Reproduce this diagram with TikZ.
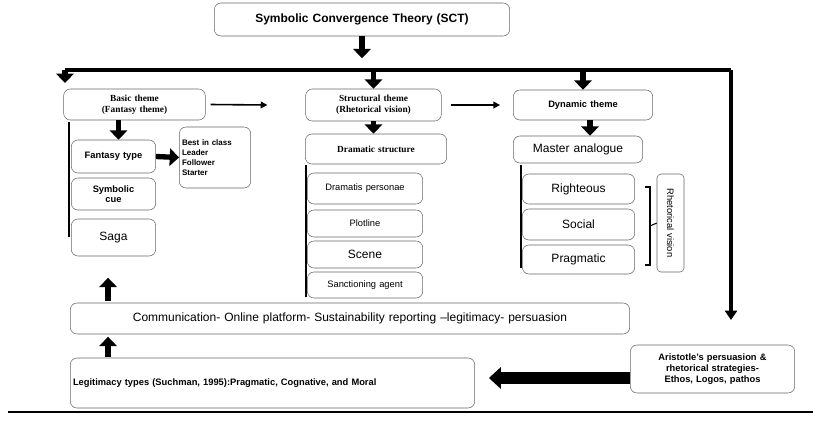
\documentclass[tikz,border=0pt]{standalone}
\usepackage{fontspec}
\setmainfont{Liberation Sans}
\newfontfamily\serifb{Liberation Serif}
\usetikzlibrary{arrows.meta,positioning,calc,decorations.pathreplacing}

\begin{document}
\begin{tikzpicture}[x=0.75pt, y=-0.75pt,
  box/.style={draw=black!60, rounded corners=5pt, inner sep=2pt, align=center},
  fat/.style={line width=4pt, -{Triangle[length=7pt, width=13pt]}},
  thin/.style={line width=1.2pt, -{Triangle[length=5pt, width=5pt]}},
  stem/.style={line width=2.2pt}]
  \useasboundingbox (0,0) rectangle (813,426);

  % Top
  \node[box, text width=290*0.75pt, minimum height=33*0.75pt,
    font=\bfseries\small] (sct) at (362,19.5) {Symbolic Convergence Theory (SCT)};

  % Themes
  \node[box, text width=139*0.75pt, minimum height=31*0.75pt, font=\serifb\bfseries\scriptsize,
    inner sep=1pt] (basic) at (134.5,104.5) {Basic theme\\(Fantasy theme)};
  \node[box, text width=133*0.75pt, minimum height=32*0.75pt, font=\serifb\bfseries\scriptsize,
    inner sep=1pt] (struct) at (373.5,105) {Structural theme\\(Rhetorical vision)};
  \node[box, text width=134*0.75pt, minimum height=30*0.75pt, font=\bfseries\scriptsize]
    (dyn) at (583,105) {Dynamic theme};

  % Basic theme column
  \node[box, text width=79*0.75pt, minimum height=33*0.75pt, font=\bfseries\scriptsize]
    (ftype) at (113.5,156.5) {Fantasy type};
  \node[box, text width=79*0.75pt, minimum height=32*0.75pt, font=\bfseries\scriptsize]
    (scue) at (113.5,194) {Symbolic\\cue};
  \node[box, text width=79*0.75pt, minimum height=37*0.75pt, font=\small]
    (saga) at (113.5,237.5) {Saga};
  \node[box, text width=66*0.75pt, minimum height=61*0.75pt, align=left,
    font=\bfseries\fontsize{6}{7.5}\selectfont] (list) at (215,157.5)
    {Best in class\\Leader\\Follower\\Starter};

  % Structural theme column
  \node[box, text width=136*0.75pt, minimum height=30*0.75pt, font=\serifb\bfseries\scriptsize]
    (dram) at (376,149) {Dramatic structure};
  \node[box, text width=110*0.75pt, minimum height=31*0.75pt, font=\scriptsize]
    (pers) at (365,188.5) {Dramatis personae};
  \node[box, text width=110*0.75pt, minimum height=27*0.75pt, font=\scriptsize]
    (plot) at (365,223.5) {Plotline};
  \node[box, text width=110*0.75pt, minimum height=27*0.75pt, font=\small]
    (scene) at (365,254.5) {Scene};
  \node[box, text width=110*0.75pt, minimum height=26*0.75pt, font=\scriptsize]
    (sanc) at (365,285) {Sanctioning agent};

  % Dynamic theme column
  \node[box, text width=124*0.75pt, minimum height=27*0.75pt, font=\small]
    (master) at (578,149.5) {Master analogue};
  \node[box, text width=107*0.75pt, minimum height=30*0.75pt, font=\small]
    (right) at (578.5,189) {Righteous};
  \node[box, text width=107*0.75pt, minimum height=31*0.75pt, font=\small]
    (social) at (578.5,224.5) {Social};
  \node[box, text width=107*0.75pt, minimum height=29*0.75pt, font=\small]
    (prag) at (578.5,259.5) {Pragmatic};
  \node[box, rounded corners=3pt, minimum width=27*0.75pt, minimum height=98*0.75pt,
    inner sep=0pt] (rvbox) at (670.5,223) {};
  \node[rotate=-90, font=\scriptsize] (rv) at (rvbox.center) {Rhetorical vision};

  % Bottom
  \node[box, text width=554*0.75pt, minimum height=31*0.75pt, font=\small]
    (comm) at (350,318.5) {Communication- Online platform- Sustainability reporting --legitimacy- persuasion};
  \node[box, text width=399*0.75pt, minimum height=50*0.75pt, align=left,
    font=\bfseries\scriptsize] (legit) at (272.5,383)
    {Legitimacy types (Suchman, 1995):Pragmatic, Cognative, and Moral};
  \node[box, text width=159*0.75pt, minimum height=48*0.75pt,
    font=\bfseries\fontsize{7}{8.5}\selectfont] (arist) at (712.5,369)
    {Aristotle's persuasion \&\\rhetorical strategies-\\Ethos, Logos, pathos};

  % Arrows
  \coordinate (tl) at (65,70);
  \coordinate (tr) at (731,70);
  \draw[line width=2.5pt] (tl) -- (tr);
  \draw[fat] (sct.south) -- ($(sct.south)+(0,22)$);
  \draw[fat] (tl) -- ($(tl)+(0,13)$);
  \draw[fat] (struct.north |- tl) -- (struct.north);
  \draw[fat] (dyn.north |- tl) -- (dyn.north);
  \draw[line width=2.5pt, -{Triangle[length=7pt, width=9pt]}] (tr) -- ($(tr)+(0,250)$);
  \draw[thin] ($(basic.east)+(5,0)$) -- ($(struct.west)+(-38,0)$);
  \draw[thin] ($(struct.east)+(9,0)$) -- ($(dyn.west)+(-13,0)$);
  \draw[fat] ($(basic.south)+(-16,0)$) -- ($(ftype.north)+(5,0)$);
  \draw[fat] (ftype.east) -- (list.west);
  \draw[fat] (struct.south) -- (dram.north -| struct.south);
  \draw[fat] ($(dyn.south)+(7,0)$) -- ($(master.north)+(12,0)$);
  \draw[fat] ($(comm.north west)+(38,-2)$) -- ($(comm.north west)+(38,-25)$);
  \draw[fat] ($(legit.north west)+(38,-1)$) -- ($(legit.north west)+(38,-21)$);
  \draw[line width=9pt, -{Triangle[length=9pt, width=16pt]}] (arist.west |- legit.east) ++(0,-5)
    -- ($(legit.east)+(14,-5)$);

  % Stems
  \draw[stem] (69,122) -- (69,237);
  \draw[stem] (306,165) -- (306,297);
  \draw[stem] (521,165) -- (521,268);
  \draw[line width=0.8pt] (645,187) -- (650,187) -- (650,265) -- (645,265);
  \draw[line width=0.8pt] (650,226) -- (rvbox.west);

  % Bottom rule
  \draw[line width=1.5pt] (8,412) -- (813,412);
\end{tikzpicture}
\end{document}
